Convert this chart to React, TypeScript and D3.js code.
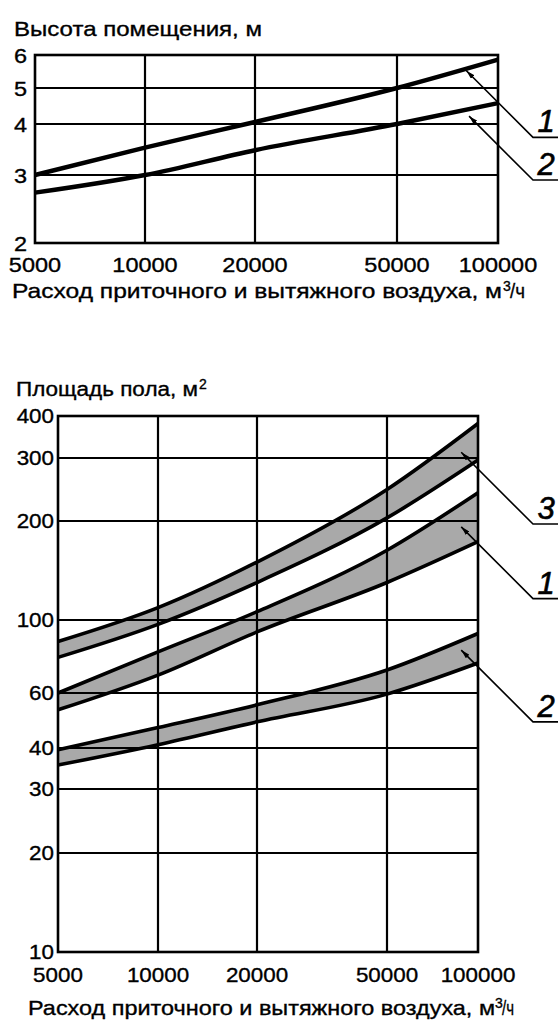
import React from 'react';
import * as d3 from 'd3';

// ---------- data ----------
const flowTicks = [5000, 10000, 20000, 50000, 100000];
const flowTickLabels = ['5000', '10000', '20000', '50000', '100000'];
const heightTicks = [2, 3, 4, 5, 6];
const areaTicks = [10, 20, 30, 40, 60, 100, 200, 300, 400];

// room height, m (at flowTicks)
const heightLine1 = [3.0, 3.5, 4.05, 5.0, 5.85];
const heightLine2 = [2.7, 3.0, 3.45, 4.0, 4.55];

// floor area, m2 (at flowTicks)
const band1Upper = [60, 80, 106, 163, 240];
const band1Lower = [53, 68, 92, 130, 173];
const band2Upper = [39.5, 46.5, 55, 70.5, 91];
const band2Lower = [35.5, 41, 48.5, 59.5, 74];
const band3Upper = [86, 109, 150, 245, 380];
const band3Lower = [77, 97, 130, 204, 296];

const topCallouts = [
  { label: '1', flow: 80500, value: 5.5 },
  { label: '2', flow: 82000, value: 4.2 },
];
const bottomCallouts = [
  { label: '3', flow: 88000, value: 312 },
  { label: '1', flow: 88000, value: 192 },
  { label: '2', flow: 88000, value: 81 },
];

const FONT = "'Liberation Sans', Arial, Helvetica, sans-serif";
const TXT = { fill: '#000', stroke: '#000', strokeWidth: 0.35 };

// ---------- scales ----------
const xTop = d3.scaleLog().domain(flowTicks).range([35, 145, 255, 397, 498]);
const yTop = d3.scaleLog().domain(heightTicks).range([243, 175, 124, 88, 55]);
const xBot = d3.scaleLog().domain(flowTicks).range([58, 158, 257, 387, 478]);
const yBot = d3
  .scaleLog()
  .domain(areaTicks)
  .range([952, 853, 789, 748, 693, 620, 521, 458, 416]);

function lineGen(xs: any, ys: any) {
  return d3
    .line<number>()
    .x((_, i) => xs(flowTicks[i]))
    .y((d) => ys(d))
    .curve(d3.curveMonotoneX);
}

function areaGen(lower: number[]) {
  return d3
    .area<number>()
    .x((_, i) => xBot(flowTicks[i]))
    .y0((_, i) => yBot(lower[i]))
    .y1((d) => yBot(d))
    .curve(d3.curveMonotoneX);
}

function Callout({ x, y, label }: { x: number; y: number; label: string }) {
  const ex = 533;
  const ey = y + (ex - x);
  return (
    <g>
      <path
        d={`M${x},${y}L${ex},${ey}L558,${ey}`}
        fill="none"
        stroke="#000"
        strokeWidth={1.6}
        markerStart="url(#arrow)"
      />
      <text
        x={546}
        y={ey - 5}
        textAnchor="middle"
        fontSize={31}
        fontStyle="italic"
        fontFamily={FONT}
        fill="#000"
        stroke="#000"
        strokeWidth={0.6}
      >
        {label}
      </text>
    </g>
  );
}

function Tick({ x, y, anchor, size, children }: any) {
  return (
    <text
      transform={`translate(${x},${y}) scale(1.12,1)`}
      textAnchor={anchor}
      fontSize={size}
      {...TXT}
    >
      {children}
    </text>
  );
}

function XTitle({ x, y, len, supX, restX, restLen }: any) {
  return (
    <g>
      <text x={x} y={y} fontSize={21} textLength={len} lengthAdjust="spacingAndGlyphs" {...TXT}>
        Расход приточного и вытяжного воздуха, м
      </text>
      <text x={supX} y={y - 7} fontSize={14} {...TXT}>
        3
      </text>
      <text x={restX} y={y} fontSize={21} textLength={restLen} lengthAdjust="spacingAndGlyphs" {...TXT}>
        /ч
      </text>
    </g>
  );
}

export default function App() {
  const topLine = lineGen(xTop, yTop);
  const botLine = lineGen(xBot, yBot);
  const bands = [
    { up: band1Upper, lo: band1Lower },
    { up: band2Upper, lo: band2Lower },
    { up: band3Upper, lo: band3Lower },
  ];

  const [tx0, tx1] = [xTop(5000), xTop(100000)];
  const [ty0, ty1] = [yTop(6), yTop(2)];
  const [bx0, bx1] = [xBot(5000), xBot(100000)];
  const [by0, by1] = [yBot(400), yBot(10)];

  return (
    <svg
      width={560}
      height={1020}
      viewBox="0 0 560 1020"
      style={{ position: 'absolute', left: 0, top: 0, background: '#fff' }}
      fontFamily={FONT}
    >
      <defs>
        <marker
          id="arrow"
          viewBox="0 0 9 5"
          refX={9}
          refY={2.5}
          markerWidth={9}
          markerHeight={5}
          markerUnits="userSpaceOnUse"
          orient="auto-start-reverse"
        >
          <path d="M0,0L9,2.5L0,5Z" fill="#000" />
        </marker>
      </defs>
      <rect width={560} height={1020} fill="#fff" />

      {/* ---------- top chart ---------- */}
      <text x={14} y={36} fontSize={21} textLength={248} lengthAdjust="spacingAndGlyphs" {...TXT}>
        Высота помещения, м
      </text>
      {flowTicks.slice(1, -1).map((t) => (
        <line key={t} x1={xTop(t)} x2={xTop(t)} y1={ty0} y2={ty1} stroke="#000" strokeWidth={2.2} />
      ))}
      {heightTicks.slice(1, -1).map((v) => (
        <line key={v} x1={tx0} x2={tx1} y1={yTop(v)} y2={yTop(v)} stroke="#000" strokeWidth={2.2} />
      ))}
      <rect x={tx0} y={ty0} width={tx1 - tx0} height={ty1 - ty0} fill="none" stroke="#000" strokeWidth={2.6} />
      <path d={topLine(heightLine1) || ''} fill="none" stroke="#000" strokeWidth={4.4} />
      <path d={topLine(heightLine2) || ''} fill="none" stroke="#000" strokeWidth={4.4} />
      {heightTicks.map((v) => (
        <Tick key={v} x={tx0 - 8} y={yTop(v) + 7.5} anchor="end" size={21}>
          {v}
        </Tick>
      ))}
      {flowTicks.map((t, i) => (
        <Tick key={t} x={xTop(t)} y={ty1 + 29} anchor="middle" size={21}>
          {flowTickLabels[i]}
        </Tick>
      ))}
      <XTitle x={12} y={298} len={490} supX={503} restX={510} restLen={15} />
      {topCallouts.map((c, i) => (
        <Callout key={i} x={xTop(c.flow)} y={yTop(c.value)} label={c.label} />
      ))}

      {/* ---------- bottom chart ---------- */}
      <text x={16} y={396} fontSize={20} textLength={182} lengthAdjust="spacingAndGlyphs" {...TXT}>
        Площадь пола, м
      </text>
      <text x={199} y={389} fontSize={14} {...TXT}>
        2
      </text>
      {bands.map((b, i) => (
        <path key={i} d={areaGen(b.lo)(b.up) || ''} fill="#a9a9a9" stroke="none" />
      ))}
      {flowTicks.slice(1, -1).map((t) => (
        <line key={t} x1={xBot(t)} x2={xBot(t)} y1={by0} y2={by1} stroke="#000" strokeWidth={2.2} />
      ))}
      {areaTicks.slice(1, -1).map((v) => (
        <line key={v} x1={bx0} x2={bx1} y1={yBot(v)} y2={yBot(v)} stroke="#000" strokeWidth={2.2} />
      ))}
      {bands.map((b, i) => (
        <g key={i}>
          <path d={botLine(b.up) || ''} fill="none" stroke="#000" strokeWidth={3.6} />
          <path d={botLine(b.lo) || ''} fill="none" stroke="#000" strokeWidth={3.6} />
        </g>
      ))}
      <rect x={bx0} y={by0} width={bx1 - bx0} height={by1 - by0} fill="none" stroke="#000" strokeWidth={2.6} />
      {areaTicks.map((v) => (
        <Tick key={v} x={bx0 - 4} y={yBot(v) + 7} anchor="end" size={20}>
          {v}
        </Tick>
      ))}
      {flowTicks.map((t, i) => (
        <Tick key={t} x={xBot(t)} y={by1 + 30} anchor="middle" size={20}>
          {flowTickLabels[i]}
        </Tick>
      ))}
      <XTitle x={28} y={1015} len={467} supX={495} restX={502} restLen={12} />
      {bottomCallouts.map((c, i) => (
        <Callout key={i} x={xBot(c.flow)} y={yBot(c.value)} label={c.label} />
      ))}
    </svg>
  );
}
